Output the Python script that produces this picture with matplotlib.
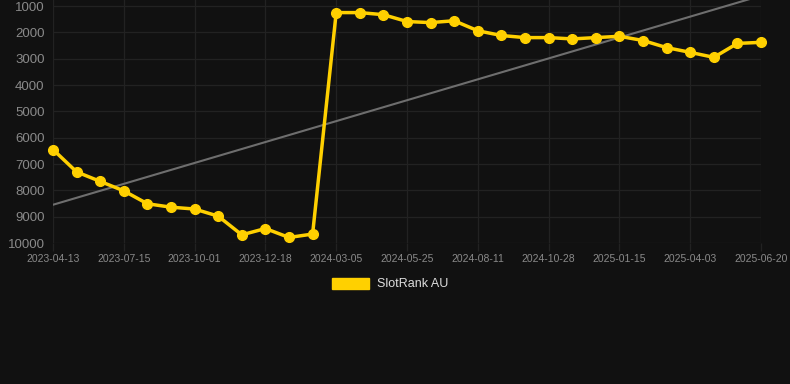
import numpy as np
import matplotlib
matplotlib.use('Agg')
import matplotlib.pyplot as plt

plt.rcParams['font.family'] = ['Liberation Sans', 'DejaVu Sans']

# sample dates (one point every ~26 days), only every 3rd gets a label
dates = ['2023-04-13', '2023-05-14', '2023-06-14', '2023-07-15', '2023-08-10',
         '2023-09-05', '2023-10-01', '2023-10-27', '2023-11-22', '2023-12-18',
         '2024-01-13', '2024-02-08', '2024-03-05', '2024-04-01', '2024-04-28',
         '2024-05-25', '2024-06-20', '2024-07-16', '2024-08-11', '2024-09-06',
         '2024-10-02', '2024-10-28', '2024-11-23', '2024-12-20', '2025-01-15',
         '2025-02-10', '2025-03-08', '2025-04-03', '2025-04-29', '2025-05-25',
         '2025-06-20']
rank_au = [6450, 7300, 7660, 8020, 8510, 8640, 8710, 8980, 9690, 9450,
           9790, 9660, 1250, 1250, 1330, 1590, 1630, 1560, 1940, 2120,
           2200, 2200, 2250, 2200, 2150, 2310, 2580, 2760, 2950, 2420,
           2380]
y_ticks = [1000, 2000, 3000, 4000, 5000, 6000, 7000, 8000, 9000, 10000]

bg = '#111111'
grid_col = '#222222'
yellow = '#FFD000'

fig = plt.figure(figsize=(7.9, 3.84), dpi=100, facecolor=bg)
ax = fig.add_axes([53 / 790, (384 - 243) / 384, (761 - 53) / 790, 243 / 384])
ax.set_facecolor(bg)

x = np.arange(len(dates))

# linear trend over the whole series
k, b = np.polyfit(x, rank_au, 1)
ax.plot(x, k * x + b, color='#6e6e6e', linewidth=1.5, zorder=2)

ax.plot(x, rank_au, color=yellow, linewidth=2.5, marker='o', markersize=7,
        clip_on=False, zorder=3, label='SlotRank AU')

ax.set_xlim(0, len(dates) - 1)
ax.set_ylim(10000, 772)
ax.set_yticks(y_ticks)
ax.set_yticklabels([str(v) for v in y_ticks])
ax.set_xticks(x[::3])
ax.set_xticklabels(dates[::3])

ax.grid(True, color=grid_col, linewidth=0.9)
ax.set_axisbelow(True)
for s in ax.spines.values():
    s.set_visible(False)
ax.tick_params(axis='x', colors=grid_col, length=6, width=0.9, labelsize=7.5,
               labelcolor='#8a8a8a', pad=2)
ax.tick_params(axis='y', length=0, labelsize=9.5, labelcolor='#8a8a8a', pad=6)

leg = fig.legend(handles=[plt.Rectangle((0, 0), 1, 1, color=yellow)],
                 labels=['SlotRank AU'], loc='center', bbox_to_anchor=(390 / 790, 1 - 284 / 384),
                 frameon=False, fontsize=9, handlelength=3.0, handleheight=1.0,
                 handletextpad=0.6)
for t in leg.get_texts():
    t.set_color('#dddddd')

fig.savefig('out.png', dpi=100, facecolor=bg)
